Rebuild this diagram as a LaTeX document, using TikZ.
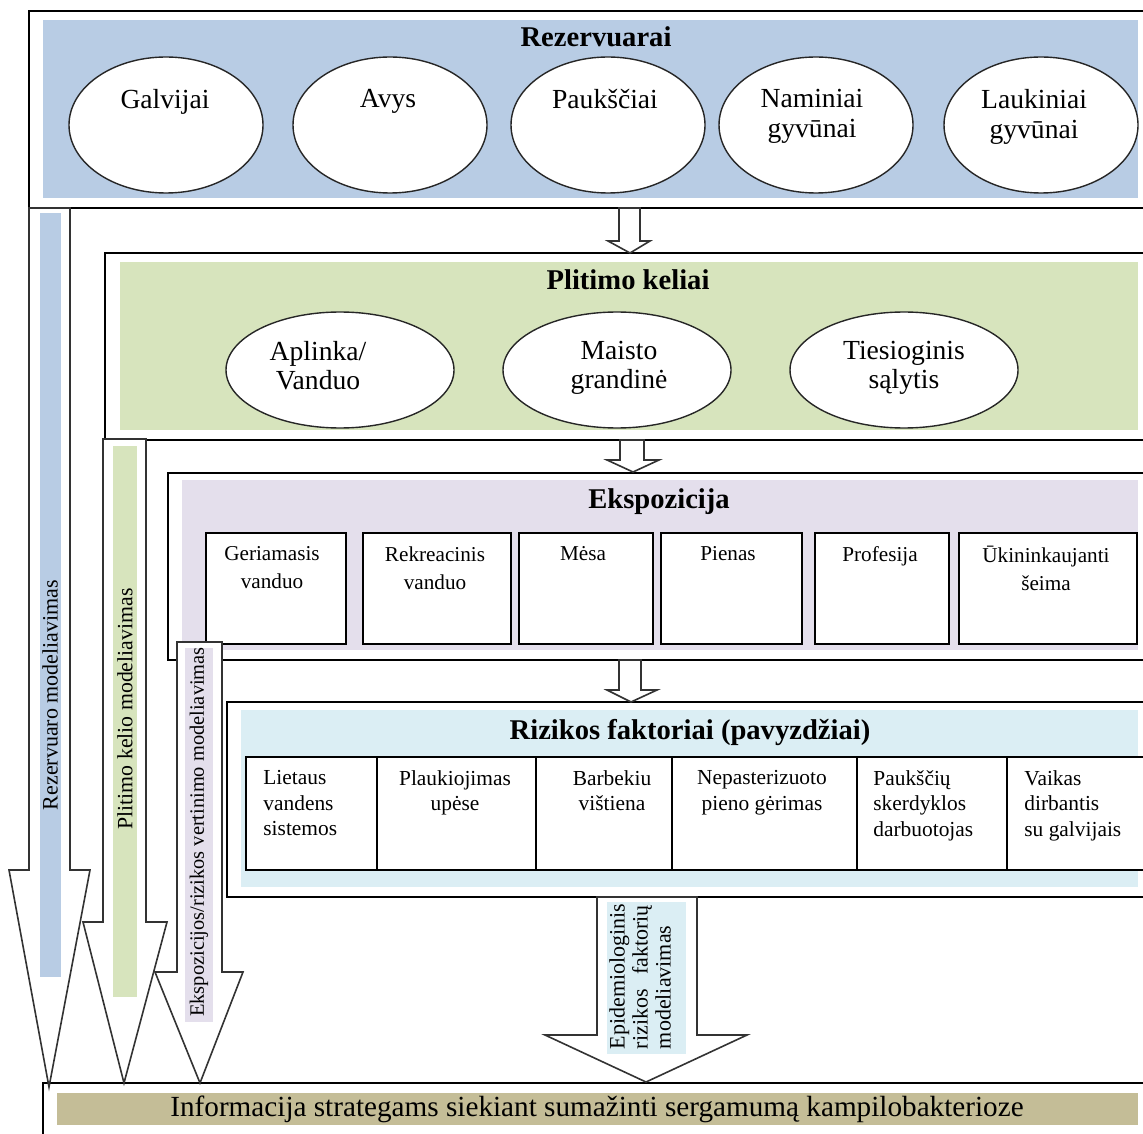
\documentclass[tikz,border=0pt]{standalone}
\usepackage{fontspec}
\setmainfont{Liberation Serif}
\usetikzlibrary{shapes.geometric}
\definecolor{rezblue}{HTML}{B8CCE4}
\definecolor{plgreen}{HTML}{D7E4BD}
\definecolor{expurple}{HTML}{E4DFEC}
\definecolor{riskblue}{HTML}{DBEEF4}
\definecolor{infotan}{HTML}{C4BD97}
\begin{document}
\begin{tikzpicture}[x=0.5pt,y=-0.5pt,
  frame/.style={draw=black, line width=0.8pt},
  oval/.style={ellipse, draw=black!85, line width=0.7pt, fill=white, inner sep=0pt},
  ovalA/.style={oval, minimum width=97pt, minimum height=68pt},
  ovalB/.style={oval, minimum width=114pt, minimum height=58pt},
  ovaltext/.style={inner sep=0pt, align=center, font=\fontsize{13.8}{15}\selectfont, anchor=north},
  header/.style={inner sep=0pt, font=\bfseries\fontsize{14.3}{16}\selectfont, anchor=base},
  cell/.style={draw=black, line width=0.8pt, fill=white, inner sep=0pt, anchor=north west},
  celltext/.style={inner sep=0pt, align=center, font=\fontsize{10.6}{14}\selectfont, anchor=north},
  tabtext/.style={inner sep=0pt, font=\fontsize{10.7}{12.75}\selectfont},
  blockarrow/.style={draw=black!80, line width=0.8pt, fill=white, line join=miter},
  striptext/.style={inner sep=0pt, rotate=90, font=\fontsize{11}{12}\selectfont}
]
\useasboundingbox (0,0) rectangle (1143,1133);
\clip (0,0) rectangle (1143,1133);

% ---------- level frames and fills ----------
\draw[frame] (29,11) rectangle (1160,208);
\fill[rezblue] (43,20) rectangle (1138,198);
\draw[frame] (105,253) rectangle (1160,440);
\fill[plgreen] (120,262) rectangle (1138,430);
\draw[frame] (168,473) rectangle (1160,660);
\fill[expurple] (182,480) rectangle (1138,650);
\draw[frame] (227,702) rectangle (1160,897);
\fill[riskblue] (241,710) rectangle (1138,887);
\draw[frame] (43,1083) rectangle (1160,1150);
\fill[infotan] (57,1093) rectangle (1138,1125);

% ---------- headers ----------
\node[header] (hrez) at (596,47) {Rezervuarai};
\node[header] (hpl) at (628,290) {Plitimo keliai};
\node[header] (hexp) at (659,508) {Ekspozicija};
\node[header] (hriz) at (690,739) {Rizikos faktoriai (pavyzdžiai)};
\node[inner sep=0pt, anchor=base, font=\fontsize{14.6}{16}\selectfont] (info) at (597,1116)
  {Informacija strategams siekiant sumažinti sergamumą kampilobakterioze};

% ---------- reservoirs ----------
\node[ovalA] (galv) at (166,125) {};
\node[ovalA] (avys) at (390,125) {};
\node[ovalA] (pauk) at (608,125) {};
\node[ovalA] (nam) at (816,125) {};
\node[ovalA] (lauk) at (1041,125) {};
\node[ovaltext] (galvt) at (165,89) {Galvijai};
\node[ovaltext] (avyst) at (388,89) {Avys};
\node[ovaltext] (paukt) at (605,89) {Paukščiai};
\node[ovaltext] (namt) at (812,89) {Naminiai\\gyvūnai};
\node[ovaltext] (laukt) at (1034,89) {Laukiniai\\gyvūnai};

% ---------- routes ----------
\node[ovalB] (apl) at (340,370) {};
\node[ovalB] (mais) at (617,370) {};
\node[ovalB] (ties) at (904,370) {};
\node[ovaltext, font=\fontsize{13.8}{14.5}\selectfont] (aplt) at (318,341) {Aplinka/\\Vanduo};
\node[ovaltext, font=\fontsize{13.8}{14.5}\selectfont] (maist) at (619,341) {Maisto\\grandinė};
\node[ovaltext, font=\fontsize{13.8}{14.5}\selectfont] (tiest) at (904,341) {Tiesioginis\\sąlytis};

% ---------- exposure cells ----------
\node[cell, minimum width=70pt, minimum height=55.5pt] (c1) at (205,532) {};
\node[cell, minimum width=74pt, minimum height=55.5pt] (c2) at (362,532) {};
\node[cell, minimum width=67pt, minimum height=55.5pt] (c3) at (518,532) {};
\node[cell, minimum width=70.5pt, minimum height=55.5pt] (c4) at (660,532) {};
\node[cell, minimum width=67pt, minimum height=55.5pt] (c5) at (814,532) {};
\node[cell, minimum width=89pt, minimum height=55.5pt] (c6) at (958,532) {};
\node[celltext] (c1t) at (272,546) {Geriamasis\\vanduo};
\node[celltext] (c2t) at (435,546) {Rekreacinis\\vanduo};
\node[celltext] (c3t) at (583,546) {Mėsa};
\node[celltext] (c4t) at (728,546) {Pienas};
\node[celltext] (c5t) at (880,546) {Profesija};
\node[celltext] (c6t) at (1046,546) {Ūkininkaujanti\\šeima};

% ---------- risk factor table ----------
\node[cell, minimum width=65.5pt, minimum height=56.5pt] (r1) at (245,756) {};
\node[cell, minimum width=79.5pt, minimum height=56.5pt] (r2) at (376,756) {};
\node[cell, minimum width=68pt, minimum height=56.5pt] (r3) at (535,756) {};
\node[cell, minimum width=92.5pt, minimum height=56.5pt] (r4) at (671,756) {};
\node[cell, minimum width=75pt, minimum height=56.5pt] (r5) at (856,756) {};
\node[cell, minimum width=80pt, minimum height=56.5pt] (r6) at (1006,756) {};
\node[tabtext, anchor=north west, align=left] (r1t) at (263,770) {Lietaus\\vandens\\sistemos};
\node[tabtext, anchor=north, align=center] (r2t) at (455,770) {Plaukiojimas\\upėse};
\node[tabtext, anchor=north, align=center] (r3t) at (612,770) {Barbekiu\\vištiena};
\node[tabtext, anchor=north, align=center] (r4t) at (762,770) {Nepasterizuoto\\pieno gėrimas};
\node[tabtext, anchor=north west, align=left] (r5t) at (873,770) {Paukščių\\skerdyklos\\darbuotojas};
\node[tabtext, anchor=north west, align=left] (r6t) at (1024,770) {Vaikas\\dirbantis\\su galvijais};

% ---------- small arrows between levels ----------
\draw[blockarrow] (619,208) -- (640,208) -- (640,241) -- (650,241) -- (630,253) -- (608,241) -- (619,241) -- cycle;
\draw[blockarrow] (620,440) -- (644,440) -- (644,460) -- (659,460) -- (633,472) -- (607,460) -- (620,460) -- cycle;
\draw[blockarrow] (619,660) -- (641,660) -- (641,690) -- (657,690) -- (631,702) -- (607,690) -- (619,690) -- cycle;

% ---------- big modelling arrows ----------
\draw[blockarrow] (29,208) -- (70,208) -- (70,870) -- (90,870) -- (49,1087) -- (9,870) -- (29,870) -- cycle;
\fill[rezblue] (40,213) rectangle (61,977);
\node[striptext] (m1) at (50,695) {Rezervuaro modeliavimas};

\draw[blockarrow] (103,439) -- (146,439) -- (146,922) -- (167,922) -- (124,1083) -- (83,922) -- (103,922) -- cycle;
\fill[plgreen] (113,446) rectangle (137,997);
\node[striptext, font=\fontsize{10.9}{12}\selectfont] (m2) at (125,709) {Plitimo kelio modeliavimas};

\draw[blockarrow] (177,642) -- (222,642) -- (222,972) -- (243,972) -- (200,1083) -- (155,972) -- (177,972) -- cycle;
\fill[expurple] (185,648) rectangle (213,1022);
\node[striptext, font=\fontsize{10.2}{12}\selectfont] (m3) at (199,832) {Ekspozicijos/rizikos vertinimo modeliavimas};

\draw[blockarrow] (597,897) -- (697,897) -- (697,1035) -- (747,1035) -- (646,1082) -- (545,1035) -- (597,1035) -- cycle;
\fill[riskblue] (607,902) rectangle (686,1054);
\node[striptext, text width=72pt, align=left, font=\fontsize{11}{11.5}\selectfont] (m4) at (640,977)
  {Epidemiologinis\\rizikos\hfill faktorių\\modeliavimas};
\end{tikzpicture}
\end{document}
